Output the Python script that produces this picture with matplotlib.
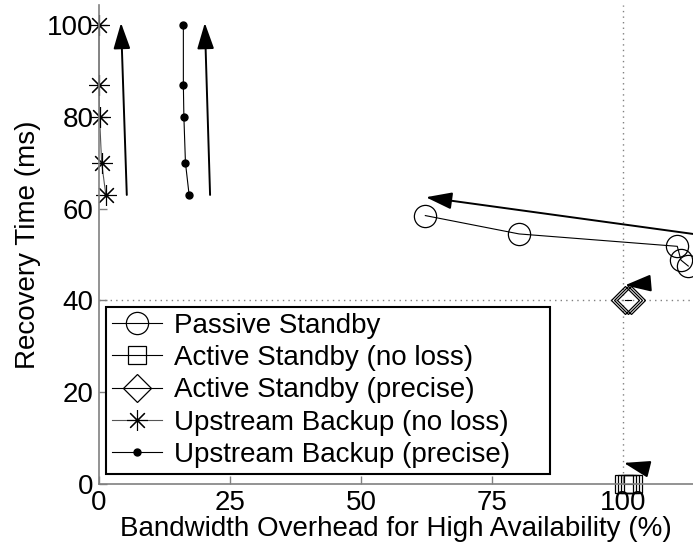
import matplotlib
matplotlib.use("Agg")
import matplotlib.pyplot as plt

plt.rcParams['font.family'] = ['Liberation Sans', 'DejaVu Sans']
plt.rcParams['font.size'] = 20

# data
passive_x = [62.3, 80.2, 110.4, 111.1, 112.5]
passive_y = [58.5, 54.5, 51.8, 48.8, 47.5]

active_noloss_x = [100.3, 100.8, 101.3, 101.9]
active_noloss_y = [0, 0, 0, 0]

active_precise_x = [100.5, 101.0, 101.5]
active_precise_y = [40, 40, 40]

upstream_noloss_x = [0.0, 0.0, 0.1, 0.5, 1.3]
upstream_noloss_y = [100, 87, 80, 70, 63]

upstream_precise_x = [16.1, 16.1, 16.2, 16.5, 17.2]
upstream_precise_y = [100, 87, 80, 70, 63]

# arrows: (tail x, tail y, head x, head y)
arrows = [
    (5.3, 63, 4.2, 100.5),
    (21.2, 63, 20.2, 100.5),
    (113.4, 54.5, 62.4, 62.5),
    (104.5, 43.7, 100.4, 43.3),
    (104.4, 3.4, 100.2, 4.6),
]

x_ticks = [0, 25, 50, 75, 100]
y_ticks = [0, 20, 40, 60, 80, 100]

fig = plt.figure(figsize=(6.93, 5.48), dpi=100)
ax = fig.add_axes([0.1429, 0.1168, 0.8571, 0.8741])

grey = '#808080'
ax.axvline(100, color=grey, ls=(0, (1, 3)), lw=1)
ax.axhline(40, color=grey, ls=(0, (1, 3)), lw=1)

ax.plot(passive_x, passive_y, '-', color='k', lw=0.8, marker='o', ms=16,
        mfc='none', mec='k', mew=0.9, label='Passive Standby', clip_on=False)
ax.plot(active_noloss_x, active_noloss_y, '-', color='k', lw=0.8, marker='s', ms=12.5,
        mfc='none', mec='k', mew=0.9, label='Active Standby (no loss)', clip_on=False)
ax.plot(active_precise_x, active_precise_y, '-', color='k', lw=0.8, marker='D', ms=14.5,
        mfc='none', mec='k', mew=0.9, label='Active Standby (precise)', clip_on=False)
ax.plot(upstream_noloss_x, upstream_noloss_y, '-', color='#555555', lw=0.8, marker=(8, 2, 0),
        ms=15, mec='k', mew=0.8, label='Upstream Backup (no loss)', clip_on=False)
ax.plot(upstream_precise_x, upstream_precise_y, '-', color='k', lw=0.8, marker='o', ms=5,
        mfc='k', mec='k', label='Upstream Backup (precise)', clip_on=False)

for x0, y0, x1, y1 in arrows:
    ax.annotate('', xy=(x1, y1), xytext=(x0, y0),
                arrowprops=dict(arrowstyle='-|>,head_length=0.8,head_width=0.26',
                                mutation_scale=20, color='k', lw=1.4,
                                shrinkA=0, shrinkB=0),
                annotation_clip=False)

ax.set_xlim(0, 113.4)
ax.set_ylim(0, 104.4)
ax.set_xticks(x_ticks)
ax.set_yticks(y_ticks)
ax.tick_params(direction='in', length=6, color=grey, width=1, pad=4)
for side in ['top', 'right']:
    ax.spines[side].set_visible(False)
for side in ['left', 'bottom']:
    ax.spines[side].set_color(grey)
    ax.spines[side].set_linewidth(1.2)

ax.set_xlabel('Bandwidth Overhead for High Availability (%)', labelpad=0)
ax.set_ylabel('Recovery Time (ms)', labelpad=4)

leg = ax.legend(loc='upper left', bbox_to_anchor=(0.0118, 0.0, 0.7475, 0.3695),
                mode='expand', borderaxespad=0, fancybox=False, framealpha=1,
                edgecolor='k', numpoints=1, handlelength=1.8, handletextpad=0.45,
                labelspacing=0.23, borderpad=0.2)
leg.get_frame().set_linewidth(1.5)

fig.savefig('out.png', dpi=100)
